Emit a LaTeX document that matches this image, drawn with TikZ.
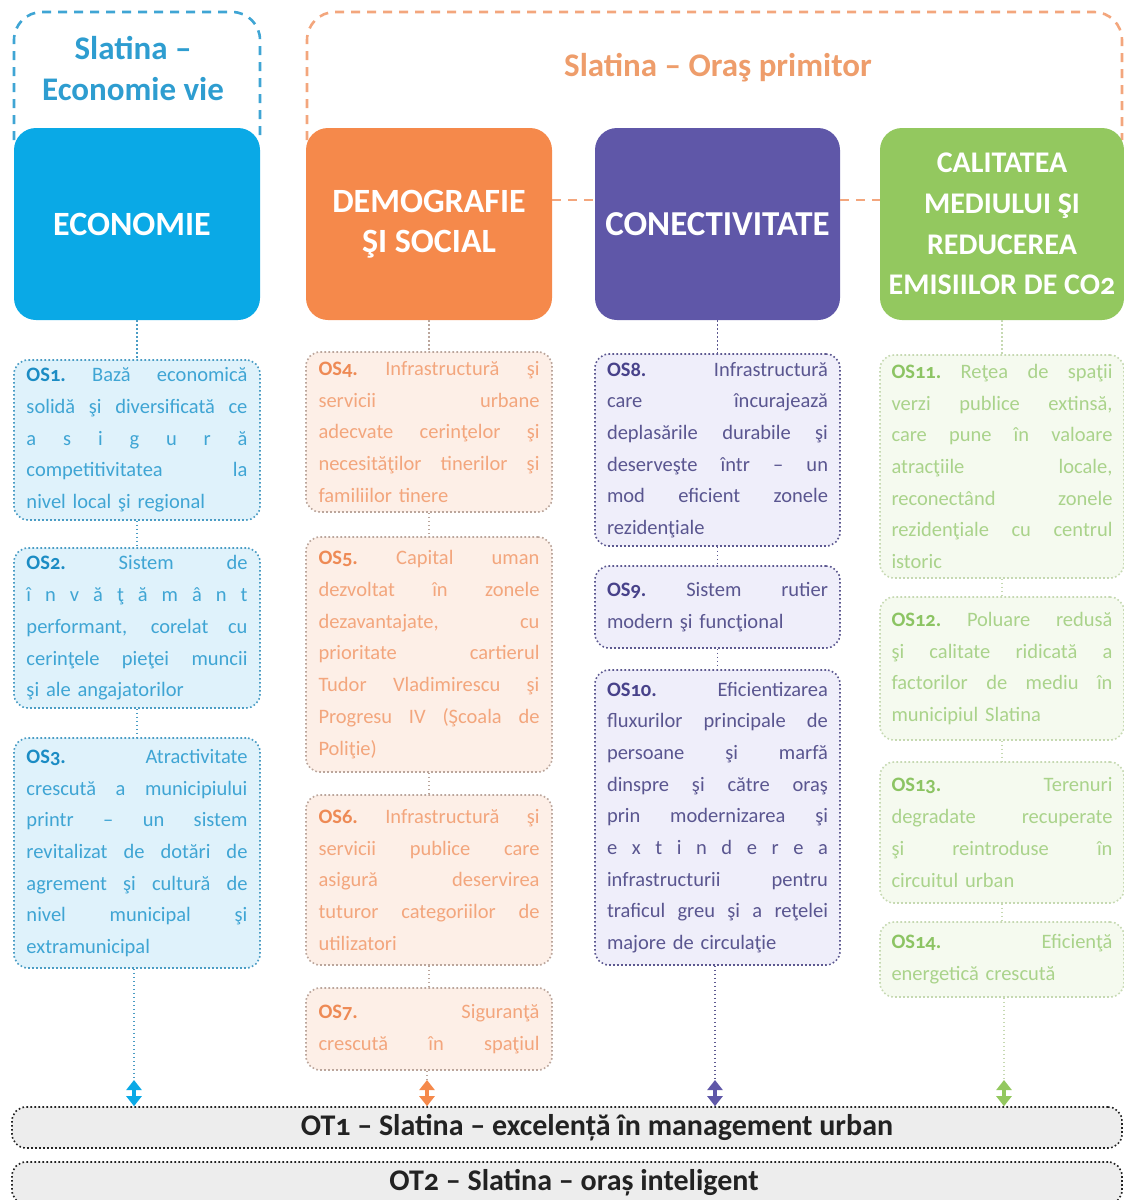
\documentclass[tikz,border=0pt]{standalone}
\usepackage{fontspec}
\setmainfont{Carlito}[Numbers=OldStyle]
\usetikzlibrary{arrows.meta}
\definecolor{cBlue}{HTML}{0AA9E6}
\definecolor{cOrange}{HTML}{F5894B}
\definecolor{cPurple}{HTML}{5F57A8}
\definecolor{cGreen}{HTML}{93C85F}
\definecolor{tBlue}{HTML}{2E9DD0}
\definecolor{tOrange}{HTML}{EE9D6B}
\definecolor{fBlue}{HTML}{DFF2FB}
\definecolor{fOrange}{HTML}{FDEFE7}
\definecolor{fPurple}{HTML}{EFEEFA}
\definecolor{fGreen}{HTML}{F5FAEF}
\definecolor{xBlue}{HTML}{3FA5D4}
\definecolor{xOrange}{HTML}{F3A67D}
\definecolor{xPurple}{HTML}{5A5690}
\definecolor{xGreen}{HTML}{AAD38B}
\definecolor{lBlue}{HTML}{1B8CC4}
\definecolor{lOrange}{HTML}{EE8A55}
\definecolor{lPurple}{HTML}{48428A}
\definecolor{lGreen}{HTML}{8CC463}
\definecolor{bBlue}{HTML}{4A9CC4}
\definecolor{bOrange}{HTML}{BBA69C}
\definecolor{bPurple}{HTML}{5C5890}
\definecolor{bGreen}{HTML}{C6D9B2}
\definecolor{otFill}{HTML}{EDEDED}
\definecolor{otText}{HTML}{222222}
\newcommand\jline[1]{\leavevmode\hbox to 221pt{\spaceskip=.2em plus 1fil minus .08em\relax #1}}
\newcommand\lab[2]{\textbf{\color{#1}#2}\hskip .2em plus 1fil minus .08em\relax}
\tikzset{
  head/.style={rounded corners=22pt, minimum width=246pt, minimum height=192pt,
    text=white, align=center, inner sep=0pt},
  osbox/.style={rounded corners=14pt, line width=1.6pt, dash pattern=on 1.6pt off 2.4pt,
    minimum width=246pt, text width=221pt, align=left, inner sep=0pt,
    font=\fontsize{20.5}{31.7}\selectfont},
  osB/.style={osbox, draw=bBlue, fill=fBlue, text=xBlue},
  osO/.style={osbox, draw=bOrange, fill=fOrange, text=xOrange},
  osP/.style={osbox, draw=bPurple, fill=fPurple, text=xPurple},
  osG/.style={osbox, draw=bGreen, fill=fGreen, text=xGreen},
  link/.style={line width=1.6pt, dash pattern=on 1.6pt off 2.4pt},
  dbl/.style={line width=4pt, {Triangle[length=10pt,width=15pt]}-{Triangle[length=10pt,width=15pt]}},
  frame/.style={line width=2.6pt, dash pattern=on 9pt off 7pt, rounded corners=28pt},
  otbar/.style={rounded corners=14pt, draw=otText, fill=otFill, line width=1.6pt,
    dash pattern=on 1.6pt off 2.4pt, minimum width=1110pt, text=otText,
    font=\fontsize{30}{32}\selectfont\bfseries, inner sep=0pt}
}
\begin{document}
\begin{tikzpicture}[x=1pt,y=-1pt]
\useasboundingbox (0,0) rectangle (1124,1200);
% group frames
\draw[frame, draw=xBlue] (14,140) -- (14,12) -- (260,12) -- (260,140);
\draw[frame, draw=xOrange] (307,140) -- (307,12) -- (1122,12) -- (1122,140);
\node[text=tBlue, font=\fontsize{33}{41}\selectfont\bfseries, align=center] (tEco) at (133,69) {Slatina –\\Economie vie};
\node[text=tOrange, font=\fontsize{33}{36}\selectfont\bfseries] (tOras) at (718,68) {Slatina – Oraş primitor};
% headings
\node[head, fill=cBlue, font=\fontsize{34}{40}\selectfont\bfseries] (econ) at (137,224) {\hspace*{-10pt}ECONOMIE};
\node[head, fill=cOrange, font=\fontsize{34}{40}\selectfont\bfseries] (demo) at (429,224) {DEMOGRAFIE\\ŞI SOCIAL};
\node[head, fill=cPurple, minimum width=245pt, font=\fontsize{35}{40}\selectfont\bfseries] (conn) at (717.5,224) {CONECTIVITATE};
\node[head, fill=cGreen, minimum width=244pt, font=\fontsize{30}{40.7}\selectfont\bfseries] (env) at (1002,224) {CALITATEA\\MEDIULUI ŞI\\REDUCEREA\\EMISIILOR DE CO2};
\coordinate (hl) at (0,200);
\draw[frame, draw=xOrange] (demo.east |- hl) -- (conn.west |- hl);
\draw[frame, draw=xOrange] (conn.east |- hl) -- (env.west |- hl);
% column 1
\node[osB, minimum height=160pt] (os1) at (137,440) {%
\jline{\lab{lBlue}{OS1.}Bază economică}\\
\jline{solidă şi diversificată ce}\\
\jline{a s i g u r ă}\\
\jline{competitivitatea la}\\
nivel local şi regional};
\node[osB, minimum height=160pt] (os2) at (137,628) {%
\jline{\lab{lBlue}{OS2.}Sistem de}\\
\jline{î n v ă ţ ă m â n t}\\
\jline{performant, corelat cu}\\
\jline{cerinţele pieţei muncii}\\
şi ale angajatorilor};
\node[osB, minimum height=230pt] (os3) at (137,853) {%
\jline{\lab{lBlue}{OS3.}Atractivitate}\\
\jline{crescută a municipiului}\\
\jline{printr – un sistem}\\
\jline{revitalizat de dotări de}\\
\jline{agrement şi cultură de}\\
\jline{nivel municipal şi}\\
extramunicipal};
% column 2
\node[osO, minimum height=160pt] (os4) at (429,432) {%
\jline{\lab{lOrange}{OS4.}Infrastructură şi}\\
\jline{servicii urbane}\\
\jline{adecvate cerinţelor şi}\\
\jline{necesităţilor tinerilor şi}\\
familiilor tinere};
\node[osO, minimum height=235pt] (os5) at (429,654.5) {%
\jline{\lab{lOrange}{OS5.}Capital uman}\\
\jline{dezvoltat în zonele}\\
\jline{dezavantajate, cu}\\
\jline{prioritate cartierul}\\
\jline{Tudor Vladimirescu şi}\\
\jline{Progresu IV (Şcoala de}\\
Poliţie)};
\node[osO, minimum height=170pt] (os6) at (429,880) {%
\jline{\lab{lOrange}{OS6.}Infrastructură şi}\\
\jline{servicii publice care}\\
\jline{asigură deservirea}\\
\jline{tuturor categoriilor de}\\
utilizatori};
\node[osO, minimum height=82pt] (os7) at (429,1029) {%
\jline{\lab{lOrange}{OS7.}Siguranţă}\\
\jline{crescută în spaţiul}};
% column 3
\node[osP, minimum width=245pt, minimum height=192pt] (os8) at (717.5,450) {%
\jline{\lab{lPurple}{OS8.}Infrastructură}\\
\jline{care încurajează}\\
\jline{deplasările durabile şi}\\
\jline{deserveşte într – un}\\
\jline{mod eficient zonele}\\
rezidenţiale};
\node[osP, minimum width=245pt, minimum height=82pt] (os9) at (717.5,607) {%
\jline{\lab{lPurple}{OS9.}Sistem rutier}\\
modern şi funcţional};
\node[osP, minimum width=245pt, minimum height=295pt] (os10) at (717.5,817.5) {%
\jline{\lab{lPurple}{OS10.}Eficientizarea}\\
\jline{fluxurilor principale de}\\
\jline{persoane şi marfă}\\
\jline{dinspre şi către oraş}\\
\jline{prin modernizarea şi}\\
\jline{e x t i n d e r e a}\\
\jline{infrastructurii pentru}\\
\jline{traficul greu şi a reţelei}\\
majore de circulaţie};
% column 4
\node[osG, minimum width=244pt, minimum height=223pt] (os11) at (1002,466.5) {%
\jline{\lab{lGreen}{OS11.}Reţea de spaţii}\\
\jline{verzi publice extinsă,}\\
\jline{care pune în valoare}\\
\jline{atracţiile locale,}\\
\jline{reconectând zonele}\\
\jline{rezidenţiale cu centrul}\\
istoric};
\node[osG, minimum width=244pt, minimum height=143pt] (os12) at (1002,668.5) {%
\jline{\lab{lGreen}{OS12.}Poluare redusă}\\
\jline{şi calitate ridicată a}\\
\jline{factorilor de mediu în}\\
municipiul Slatina};
\node[osG, minimum width=244pt, minimum height=141pt] (os13) at (1002,832.5) {%
\jline{\lab{lGreen}{OS13.}Terenuri}\\
\jline{degradate recuperate}\\
\jline{şi reintroduse în}\\
circuitul urban};
\node[osG, minimum width=244pt, minimum height=75pt] (os14) at (1002,959.5) {%
\jline{\lab{lGreen}{OS14.}Eficienţă}\\
energetică crescută};
% bars
\node[otbar, minimum height=41pt] (ot1) at (567,1127.5) {\hspace*{60pt}OT1 – Slatina – excelență în management urban};
\node[otbar, minimum height=42pt] (ot2) at (567,1183) {\hspace*{14pt}OT2 – Slatina – oraș inteligent};
% connectors
\draw[link, draw=bBlue] (econ.south) -- (os1.north);
\draw[link, draw=bBlue] (os1.south) -- (os2.north);
\draw[link, draw=bBlue] (os2.south) -- (os3.north);
\draw[link, draw=bOrange] (demo.south) -- (os4.north);
\draw[link, draw=bOrange] (os4.south) -- (os5.north);
\draw[link, draw=bOrange] (os5.south) -- (os6.north);
\draw[link, draw=bOrange] (os6.south) -- (os7.north);
\draw[link, draw=bPurple] (conn.south) -- (os8.north);
\draw[link, draw=bPurple] (os8.south) -- (os9.north);
\draw[link, draw=bPurple] (os9.south) -- (os10.north);
\draw[link, draw=bGreen] (env.south) -- (os11.north);
\draw[link, draw=bGreen] (os11.south) -- (os12.north);
\draw[link, draw=bGreen] (os12.south) -- (os13.north);
\draw[link, draw=bGreen] (os13.south) -- (os14.north);
\coordinate (a1) at (134,1080);
\coordinate (a2) at (427,1080);
\coordinate (a3) at (715,1080);
\coordinate (a4) at (1004,1080);
\draw[link, draw=bBlue] (os3.south -| a1) -- (a1);
\draw[link, draw=bOrange] (os7.south -| a2) -- (a2);
\draw[link, draw=bPurple] (os10.south -| a3) -- (a3);
\draw[link, draw=bGreen] (os14.south -| a4) -- (a4);
\draw[dbl, draw=cBlue, fill=cBlue] (a1) -- (a1 |- ot1.north);
\draw[dbl, draw=cOrange, fill=cOrange] (a2) -- (a2 |- ot1.north);
\draw[dbl, draw=cPurple, fill=cPurple] (a3) -- (a3 |- ot1.north);
\draw[dbl, draw=cGreen, fill=cGreen] (a4) -- (a4 |- ot1.north);
\end{tikzpicture}
\end{document}
